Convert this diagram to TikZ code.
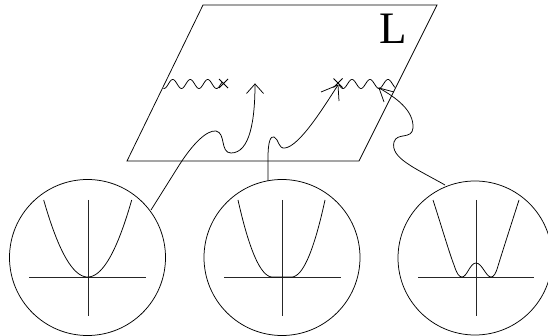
\documentclass[tikz,border=0pt]{standalone}
\usepackage{fontspec}
\setmainfont{Liberation Serif}
\usetikzlibrary{calc}
\begin{document}
\begin{tikzpicture}[x=1pt,y=-1pt,
  ln/.style={line width=0.75pt,black},
  ax/.style={line width=0.75pt,black!85},
  lbl/.style={inner sep=0pt,font=\fontsize{45}{45}\selectfont}]
\useasboundingbox (0,0) rectangle (548,336);
% plane
\coordinate (p1) at (203,5);
\coordinate (p2) at (437,5);
\coordinate (p3) at (359,161);
\coordinate (p4) at (127,161);
\draw[ln] (p1) -- (p2) -- (p3) -- (p4) -- cycle;
\node[lbl] (L) at (393,28.5) {L};
% wavy lines
\draw[ln] plot[domain=163.5:222,samples=80,smooth] (\x,{84+4.5*cos((\x-164)/17.5*360)});
\draw[ln] plot[domain=339:395,samples=80,smooth] (\x,{84-4.5*cos((\x-352)/18*360)});
% crosses
\coordinate (xa) at (223.5,83.5);
\coordinate (xb) at (338,83);
\draw[ln] ($(xa)+(-4.5,-4.5)$) -- ($(xa)+(4.5,4.5)$) ($(xa)+(-4.5,4.5)$) -- ($(xa)+(4.5,-4.5)$);
\draw[ln] ($(xb)+(-4.5,-4.5)$) -- ($(xb)+(4.5,4.5)$) ($(xb)+(-4.5,4.5)$) -- ($(xb)+(4.5,-4.5)$);
% circles
\node[draw,ln,circle,minimum size=156pt,inner sep=0pt] (c1) at (87.5,257.5) {};
\node[draw,ln,circle,minimum size=156pt,inner sep=0pt] (c2) at (282,257.5) {};
\node[draw,ln,circle,minimum size=154pt,inner sep=0pt] (c3) at (475,258) {};
% axes
\draw[ax] (29,277) -- (146,277) (88,200) -- (88,316);
\draw[ax] (224,277) -- (341,277) (282,200) -- (282,316);
\draw[ax] (418,277) -- (534,277) (476,200) -- (476,316);
% potentials
\draw[ln] plot[domain=-44:44,samples=80,smooth] ({87.7+\x},{277-77*(\x/44)^2});
\draw[ln] plot[domain=-34.5:0,samples=50,smooth] ({272.5+\x},{277-77*(\x/34.5)^2})
  -- (291.5,277)
  plot[domain=0:33.5,samples=50,smooth] ({291.5+\x},{277-77*(\x/33.5)^2});
\draw[ln] (433,200) .. controls (442,228) and (450,255) .. (454,265)
  .. controls (457,274) and (459,277) .. (462,277)
  .. controls (467,277) and (470,263) .. (476,263)
  .. controls (482,263) and (486,277) .. (491,277)
  .. controls (494,277) and (496,273) .. (498,266)
  .. controls (502,253) and (510,228) .. (519,200);
% connecting curves with arrowheads
\coordinate (t1) at (255,84);
\coordinate (t2) at (338,85);
\coordinate (t3) at (379,88);
\coordinate (s1) at (151,210);
\coordinate (s2) at (268,181);
\coordinate (s3) at (445,185);
\draw[ln] (s1) -- (178,167) .. controls (193,143) and (207,130) .. (216,131)
  .. controls (226,133) and (220,153) .. (231,153)
  .. controls (250,153) and (255,120) .. (t1);
\draw[ln] ($(t1)+(-8.5,9.5)$) -- (t1) -- ($(t1)+(8.5,9.5)$);
\draw[ln] (s2) -- (268,158) .. controls (268,140) and (271,136) .. (274,137)
  .. controls (279,139) and (278,149) .. (285,148)
  .. controls (300,146) and (325,105) .. (t2);
\draw[ln] (321,92) -- (t2) -- (339,101);
\draw[ln] (s3) .. controls (415,168) and (390,158) .. (394,142)
  .. controls (397,132) and (412,140) .. (413,128)
  .. controls (414,110) and (395,97) .. (t3);
\draw[ln] (384,102) -- (t3) -- (394,92);
\end{tikzpicture}
\end{document}
